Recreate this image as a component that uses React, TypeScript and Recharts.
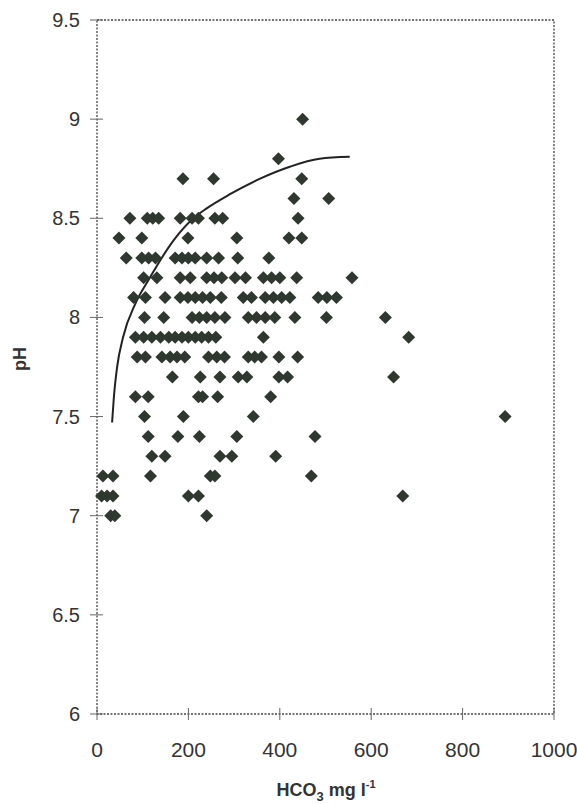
import React from "react";
import {
  ComposedChart,
  Scatter,
  Line,
  XAxis,
  YAxis,
  ReferenceArea,
  Label,
} from "recharts";

// HCO3 values (mg/l) for each pH level
const ph90 = [450];
const ph88 = [397];
const ph87 = [188, 255, 448];
const ph86 = [431, 507];
const ph85 = [72, 110, 122, 135, 182, 208, 222, 258, 275, 440];
const ph84 = [48, 98, 199, 306, 420, 448];
const ph83 = [64, 98, 113, 128, 171, 186, 200, 215, 240, 266, 308, 376];
const ph82 = [102, 131, 182, 204, 240, 256, 273, 302, 325, 364, 382, 400, 437, 558];
const ph81 = [80, 106, 149, 182, 199, 215, 231, 248, 272, 320, 338, 368, 386, 404, 422, 484, 503, 524];
const ph80 = [104, 146, 208, 224, 240, 258, 280, 331, 349, 368, 389, 433, 502, 631];
const ph79 = [84, 102, 120, 139, 157, 171, 186, 200, 215, 229, 244, 260, 364, 682];
const ph78 = [88, 106, 142, 160, 175, 192, 244, 262, 279, 331, 345, 360, 398, 439];
const ph77 = [165, 226, 269, 309, 328, 398, 417, 649];
const ph76 = [84, 112, 222, 231, 264, 380];
const ph75 = [104, 189, 342, 893];
const ph74 = [112, 177, 224, 306, 477];
const ph73 = [120, 149, 269, 295, 391];
const ph72 = [13, 35, 117, 248, 258, 469];
const ph71 = [10, 22, 35, 200, 222, 669];
const ph70 = [30, 39, 240];

// fitted curve
const curveX = [33, 37, 44, 57, 84, 113, 168, 211, 240, 290, 357, 422, 487, 553];
const curveY = [7.47, 7.6, 7.75, 7.9, 8.07, 8.19, 8.39, 8.5, 8.55, 8.62, 8.7, 8.76, 8.8, 8.81];

const xTicks = [0, 200, 400, 600, 800, 1000];
const yTicks = [6, 6.5, 7, 7.5, 8, 8.5, 9, 9.5];

const rows: [number, number[]][] = [
  [9.0, ph90], [8.8, ph88], [8.7, ph87], [8.6, ph86], [8.5, ph85],
  [8.4, ph84], [8.3, ph83], [8.2, ph82], [8.1, ph81], [8.0, ph80],
  [7.9, ph79], [7.8, ph78], [7.7, ph77], [7.6, ph76], [7.5, ph75],
  [7.4, ph74], [7.3, ph73], [7.2, ph72], [7.1, ph71], [7.0, ph70],
];

const points = rows.flatMap(([ph, vals]) => vals.map((v) => ({ x: v, y: ph })));
const curve = curveX.map((x, i) => ({ x, y: curveY[i] }));

const FONT = "'Liberation Sans', Arial, sans-serif";
const INK = "#2f382f";

const Diamond = (props: any) => {
  const { cx, cy } = props;
  const r = 6.5;
  return (
    <path
      d={`M${cx},${cy - r} L${cx + r},${cy} L${cx},${cy + r} L${cx - r},${cy} Z`}
      fill={INK}
    />
  );
};

const YTick = (props: any) => {
  const { x, y, payload } = props;
  return (
    <g>
      <line x1={x - 7} x2={x + 6} y1={y} y2={y} stroke="#666" />
      <text
        x={x - 17}
        y={y}
        textAnchor="end"
        dominantBaseline="central"
        fontSize={20}
        fontFamily={FONT}
        fill="#333"
      >
        {payload.value}
      </text>
    </g>
  );
};

const XTick = (props: any) => {
  const { x, y, payload } = props;
  return (
    <g>
      <line x1={x} x2={x} y1={y - 6} y2={y + 6} stroke="#666" />
      <text
        x={x}
        y={y + 35}
        textAnchor="middle"
        dominantBaseline="central"
        fontSize={21}
        fontFamily={FONT}
        fill="#333"
      >
        {payload.value}
      </text>
    </g>
  );
};

export default function App() {
  return (
    <div style={{ position: "absolute", left: 0, top: 0, background: "#fff" }}>
      <ComposedChart
        width={577}
        height={804}
        margin={{ top: 20, right: 23, bottom: 60, left: 0 }}
      >
        <XAxis
          dataKey="x"
          type="number"
          domain={[0, 1000]}
          ticks={xTicks}
          interval={0}
          tickSize={0}
          tickMargin={0}
          tickLine={false}
          axisLine={false}
          tick={<XTick />}
          height={30}
        >
          <Label
            content={() => (
              <text
                x={326}
                y={796}
                textAnchor="middle"
                fontSize={18}
                fontWeight="bold"
                fontFamily={FONT}
                fill="#333"
              >
                HCO
                <tspan fontSize={13} dy={5}>3</tspan>
                <tspan dy={-5}> mg l</tspan>
                <tspan fontSize={11} dy={-8}>-1</tspan>
              </text>
            )}
          />
        </XAxis>
        <YAxis
          dataKey="y"
          type="number"
          domain={[6, 9.5]}
          ticks={yTicks}
          interval={0}
          tickSize={0}
          tickMargin={0}
          tickLine={false}
          axisLine={false}
          tick={<YTick />}
          width={97}
        >
          <Label
            content={() => (
              <text
                x={26}
                y={359}
                transform="rotate(-90 26 359)"
                textAnchor="middle"
                fontSize={18}
                fontWeight="bold"
                fontFamily={FONT}
                fill="#333"
              >
                pH
              </text>
            )}
          />
        </YAxis>
        <ReferenceArea
          x1={0}
          x2={1000}
          y1={6}
          y2={9.5}
          fill="none"
          stroke="#444"
          strokeDasharray="2 1.5"
          strokeWidth={1.3}
        />
        <Scatter
          data={points}
          shape={<Diamond />}
          isAnimationActive={false}
        />
        <Line
          data={curve}
          dataKey="y"
          type="monotone"
          stroke="#222"
          strokeWidth={2}
          dot={false}
          activeDot={false}
          isAnimationActive={false}
        />
      </ComposedChart>
    </div>
  );
}
